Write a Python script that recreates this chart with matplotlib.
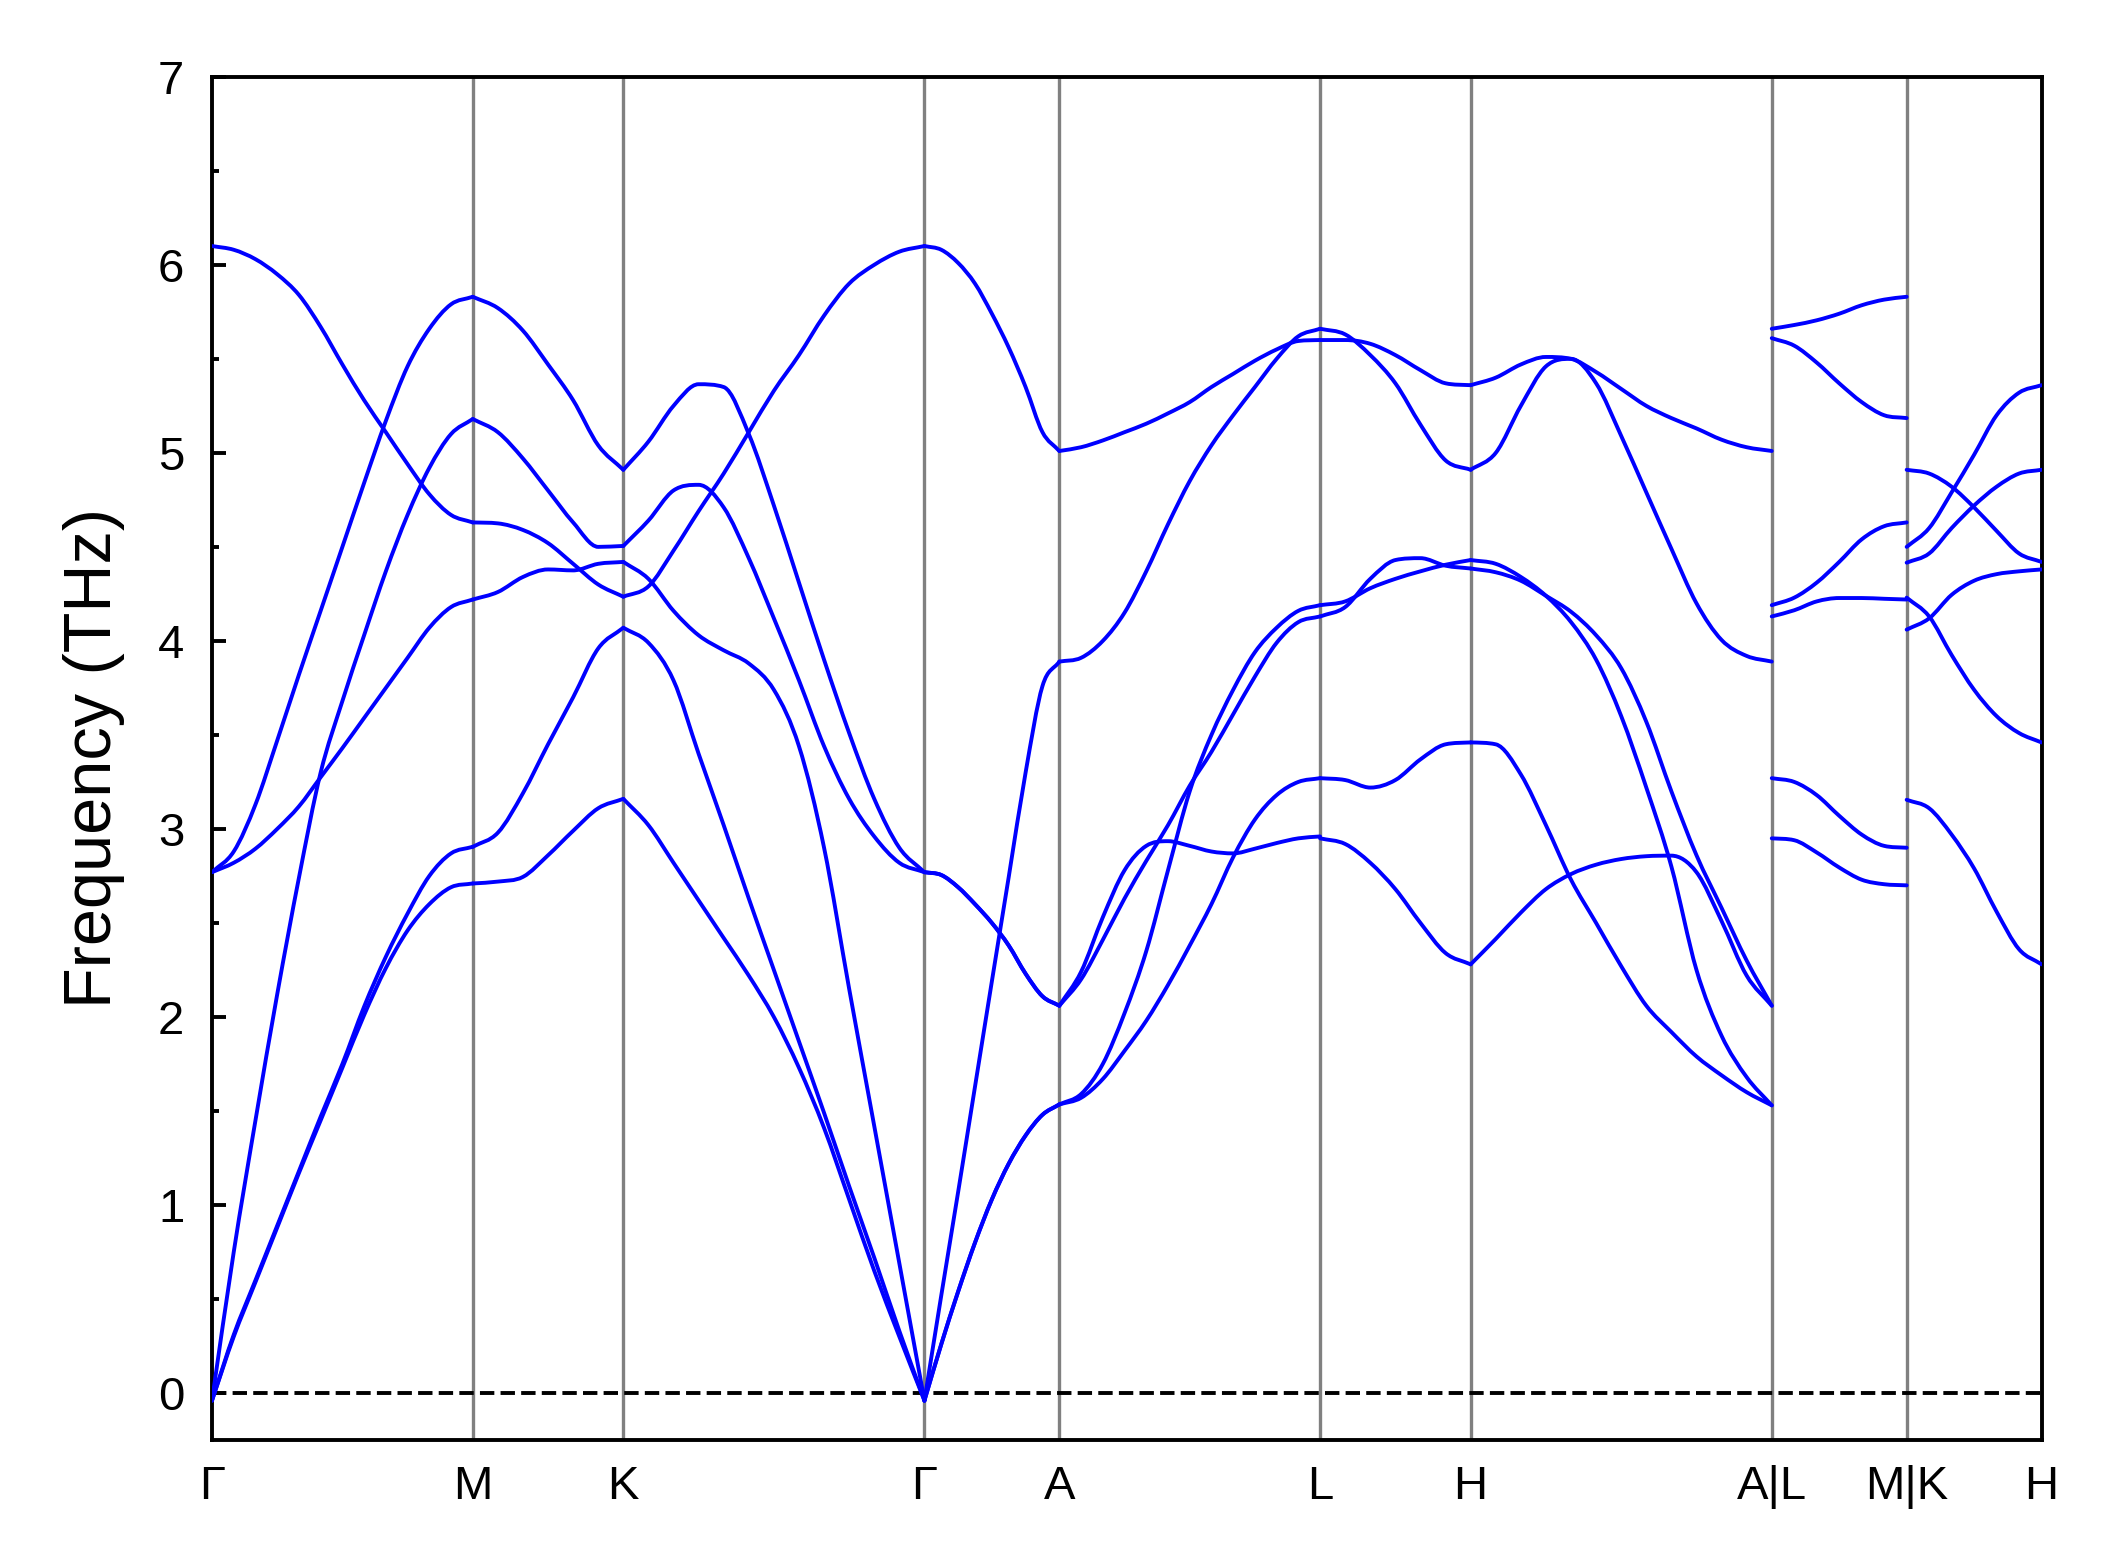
import numpy as np
import matplotlib
matplotlib.use("Agg")
import matplotlib.pyplot as plt
from matplotlib.path import Path
from matplotlib.patches import PathPatch

plt.rcParams["font.family"] = ["Liberation Sans", "DejaVu Sans"]

# relative lengths of the k-path segments and their end labels
seg_length = [0.866, 0.5, 1.0, 0.448, 0.866, 0.5, 1.0, 0.448, 0.448]
tick_labels = ["Γ", "M", "K", "Γ", "A", "L", "H", "A|L", "M|K", "H"]

# frequencies (THz) sampled uniformly along each segment, one list per branch
gamma_m = [
    [6.10, 6.08, 6.03, 5.95, 5.84, 5.67, 5.47, 5.28, 5.11, 4.94, 4.78, 4.67, 4.63],
    [2.77, 2.88, 3.13, 3.47, 3.82, 4.16, 4.50, 4.84, 5.17, 5.46, 5.66, 5.79, 5.83],
    [-0.04, 0.75, 1.45, 2.12, 2.74, 3.30, 3.68, 4.03, 4.37, 4.67, 4.92, 5.10, 5.18],
    [2.77, 2.82, 2.895, 3.00, 3.12, 3.275, 3.43, 3.59, 3.75, 3.91, 4.07, 4.18, 4.22],
    [-0.04, 0.31, 0.60, 0.89, 1.18, 1.47, 1.75, 2.055, 2.32, 2.55, 2.75, 2.87, 2.905],
    [-0.04, 0.30, 0.59, 0.88, 1.17, 1.45, 1.73, 2.01, 2.26, 2.46, 2.60, 2.69, 2.71],
]
m_k = [
    [5.83, 5.77, 5.65, 5.47, 5.28, 5.04, 4.91],
    [5.18, 5.11, 4.97, 4.80, 4.63, 4.50, 4.505],
    [4.63, 4.625, 4.59, 4.52, 4.41, 4.30, 4.235],
    [4.22, 4.26, 4.34, 4.38, 4.375, 4.41, 4.42],
    [2.905, 2.98, 3.19, 3.45, 3.70, 3.96, 4.07],
    [2.71, 2.72, 2.745, 2.86, 2.99, 3.11, 3.16],
]
k_gamma = [
    [4.235, 4.29, 4.48, 4.69, 4.89, 5.11, 5.33, 5.52, 5.73, 5.90, 6.00, 6.07, 6.10],
    [4.91, 5.06, 5.25, 5.365, 5.35, 5.10, 4.72, 4.31, 3.90, 3.51, 3.16, 2.90, 2.77],
    [4.505, 4.64, 4.80, 4.83, 4.71, 4.44, 4.12, 3.79, 3.44, 3.16, 2.96, 2.82, 2.77],
    [4.42, 4.33, 4.16, 4.03, 3.95, 3.88, 3.74, 3.44, 2.90, 2.15, 1.42, 0.69, -0.04],
    [4.07, 3.99, 3.79, 3.40, 3.02, 2.63, 2.25, 1.87, 1.49, 1.10, 0.72, 0.33, -0.04],
    [3.16, 3.02, 2.82, 2.62, 2.42, 2.22, 2.00, 1.73, 1.41, 1.03, 0.65, 0.30, -0.04],
]
gamma_a = [
    [6.10, 6.08, 6.01, 5.90, 5.74, 5.56, 5.35, 5.11, 5.01],
    [2.77, 2.755, 2.69, 2.60, 2.50, 2.38, 2.23, 2.11, 2.06],
    [2.77, 2.755, 2.69, 2.60, 2.50, 2.38, 2.23, 2.11, 2.06],
    [-0.04, 0.52, 1.07, 1.63, 2.19, 2.745, 3.30, 3.76, 3.89],
    [-0.04, 0.26, 0.54, 0.80, 1.03, 1.22, 1.37, 1.48, 1.535],
    [-0.04, 0.26, 0.54, 0.80, 1.03, 1.22, 1.37, 1.48, 1.535],
]
a_l = [
    [5.01, 5.03, 5.066, 5.11, 5.155, 5.21, 5.27, 5.35, 5.42, 5.49, 5.55, 5.595, 5.60],
    [3.89, 3.91, 4.00, 4.15, 4.37, 4.62, 4.85, 5.04, 5.20, 5.35, 5.50, 5.62, 5.66],
    [2.06, 2.24, 2.53, 2.78, 2.91, 2.935, 2.91, 2.88, 2.87, 2.895, 2.925, 2.95, 2.96],
    [2.06, 2.20, 2.41, 2.63, 2.83, 3.02, 3.23, 3.41, 3.61, 3.81, 3.99, 4.10, 4.13],
    [1.535, 1.59, 1.75, 2.02, 2.35, 2.78, 3.20, 3.50, 3.74, 3.94, 4.07, 4.16, 4.19],
    [1.535, 1.57, 1.67, 1.82, 1.98, 2.17, 2.38, 2.60, 2.85, 3.05, 3.18, 3.25, 3.27],
]
l_h = [
    [5.66, 5.63, 5.52, 5.37, 5.15, 4.96, 4.91],
    [5.60, 5.60, 5.58, 5.52, 5.44, 5.37, 5.36],
    [4.19, 4.21, 4.28, 4.33, 4.37, 4.405, 4.43],
    [4.13, 4.18, 4.33, 4.43, 4.44, 4.40, 4.385],
    [3.27, 3.26, 3.22, 3.26, 3.37, 3.45, 3.46],
    [2.95, 2.92, 2.82, 2.68, 2.50, 2.34, 2.28],
]
h_a = [
    [5.36, 5.40, 5.47, 5.51, 5.50, 5.43, 5.34, 5.25, 5.185, 5.13, 5.07, 5.03, 5.01],
    [4.91, 5.00, 5.25, 5.46, 5.50, 5.37, 5.09, 4.79, 4.49, 4.20, 4.005, 3.92, 3.89],
    [4.385, 4.365, 4.32, 4.24, 4.155, 4.03, 3.855, 3.57, 3.20, 2.86, 2.58, 2.30, 2.06],
    [4.43, 4.41, 4.34, 4.24, 4.10, 3.90, 3.60, 3.22, 2.80, 2.25, 1.90, 1.68, 1.53],
    [2.28, 2.415, 2.555, 2.68, 2.76, 2.81, 2.84, 2.855, 2.858, 2.77, 2.51, 2.22, 2.06],
    [3.46, 3.45, 3.29, 3.02, 2.73, 2.50, 2.27, 2.06, 1.92, 1.79, 1.69, 1.60, 1.53],
]
l_m = [
    [5.66, 5.68, 5.705, 5.74, 5.785, 5.815, 5.83],
    [5.61, 5.57, 5.48, 5.37, 5.27, 5.20, 5.185],
    [4.19, 4.23, 4.31, 4.42, 4.54, 4.61, 4.63],
    [4.13, 4.163, 4.21, 4.228, 4.228, 4.224, 4.22],
    [3.27, 3.25, 3.18, 3.07, 2.97, 2.91, 2.90],
    [2.95, 2.94, 2.875, 2.795, 2.73, 2.706, 2.70],
]
k_h = [
    [4.50, 4.60, 4.79, 4.99, 5.20, 5.32, 5.36],
    [4.416, 4.465, 4.60, 4.72, 4.82, 4.89, 4.91],
    [4.91, 4.89, 4.82, 4.71, 4.585, 4.465, 4.42],
    [4.06, 4.12, 4.245, 4.32, 4.355, 4.37, 4.38],
    [4.23, 4.13, 3.925, 3.74, 3.60, 3.51, 3.46],
    [3.155, 3.11, 2.97, 2.79, 2.56, 2.36, 2.28],
]

segments = [gamma_m, m_k, k_gamma, gamma_a, a_l, l_h, h_a, l_m, k_h]
tick_pos = np.concatenate([[0.0], np.cumsum(seg_length)])


def band_path(x, y):
    """Monotone cubic (Fritsch-Carlson) Bezier path through the samples."""
    h = np.diff(x)
    d = np.diff(y) / h
    m = np.empty_like(y)
    m[0], m[-1] = d[0], d[-1]
    m[1:-1] = (d[:-1] + d[1:]) / 2
    m[1:-1][d[:-1] * d[1:] <= 0] = 0.0
    for k in range(len(d)):
        if d[k] == 0:
            m[k] = m[k + 1] = 0.0
            continue
        a, b = m[k] / d[k], m[k + 1] / d[k]
        s = a * a + b * b
        if s > 9:
            tau = 3 / np.sqrt(s)
            m[k], m[k + 1] = tau * a * d[k], tau * b * d[k]
    verts = [(x[0], y[0])]
    codes = [Path.MOVETO]
    for k in range(len(d)):
        verts += [(x[k] + h[k] / 3, y[k] + m[k] * h[k] / 3),
                  (x[k + 1] - h[k] / 3, y[k + 1] - m[k + 1] * h[k] / 3),
                  (x[k + 1], y[k + 1])]
        codes += [Path.CURVE4] * 3
    return Path(verts, codes)


fig = plt.figure(figsize=(10.6, 7.835), dpi=200)
ax = fig.add_axes([0.1, 0.081, 0.863, 0.87])

for i, seg in enumerate(segments):
    x0, x1 = tick_pos[i], tick_pos[i + 1]
    for band in seg:
        y = np.asarray(band, dtype=float)
        x = x0 + np.linspace(0.0, 1.0, len(y)) * (x1 - x0)
        ax.add_patch(PathPatch(band_path(x, y), fill=False, edgecolor="blue",
                               lw=1.4, capstyle="round", zorder=3))

for xp in tick_pos[1:-1]:
    ax.axvline(xp, color="gray", lw=1.2, zorder=1)
ax.axhline(0.0, color="black", ls="--", lw=1.4, zorder=2)

ax.set_xlim(tick_pos[0], tick_pos[-1])
ax.set_ylim(-0.25, 7)
ax.set_xticks(tick_pos)
ax.set_xticklabels(tick_labels)
ax.set_yticks(np.arange(0, 8, 1))
ax.set_yticks(np.arange(0.5, 7, 1), minor=True)
ax.tick_params(axis="x", length=0, labelsize=17, pad=9)
ax.tick_params(axis="y", which="major", direction="in", length=5,
               width=1.4, labelsize=17, pad=10)
ax.tick_params(axis="y", which="minor", direction="in", length=2.5, width=1.4)
for sp in ax.spines.values():
    sp.set_linewidth(1.4)
ax.set_ylabel("Frequency (THz)", fontsize=24, labelpad=12)

fig.savefig("out.png", dpi=200)
